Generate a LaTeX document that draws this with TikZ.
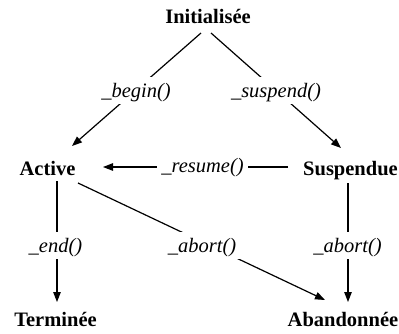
\documentclass[tikz,border=0pt]{standalone}
\usepackage{fontspec}
\setmainfont{Liberation Serif}
\usetikzlibrary{arrows.meta}
\begin{document}
\begin{tikzpicture}[x=1pt,y=-1pt,
  state/.style={font=\fontsize{20.5}{24}\selectfont\bfseries, inner sep=0pt, anchor=base},
  lbl/.style={font=\fontsize{20.5}{24}\selectfont\itshape, fill=white, anchor=base,
    inner xsep=4pt, inner ysep=2pt, text height=18pt, text depth=5pt},
  edge/.style={line width=1.2pt},
  arr/.style={edge, -{Triangle[length=10pt,width=7.5pt]}}]
\useasboundingbox (0,0) rectangle (399,333);
% states
\node[state] (ini) at (208,23) {Initialisée};
\node[state] (act) at (47.5,175) {Active};
\node[state] (sus) at (350.5,175) {Suspendue};
\node[state] (ter) at (55.5,326) {Terminée};
\node[state] (aba) at (343,326) {Abandonnée};
% transitions
\draw[arr] ([shift={(-7,10)}]ini.base) -- ([shift={(24.5,-29)}]act.base);
\draw[arr] ([shift={(3,10)}]ini.base) -- ([shift={(-9.5,-27)}]sus.base);
\draw[arr] ([shift={(-62.5,-8)}]sus.base) -- ([shift={(55.5,-8)}]act.base);
\draw[arr] ([shift={(9.5,6)}]act.base) -- ([shift={(1.5,-24)}]ter.base);
\draw[arr] ([shift={(30.5,8)}]act.base) -- ([shift={(-18,-26)}]aba.base);
\draw[arr] ([shift={(-2.5,8)}]sus.base) -- ([shift={(5,-24)}]aba.base);
% transition labels
\node[lbl] (lbegin) at (136,97) {\_begin()};
\node[lbl] (lsusp) at (276,97) {\_suspend()};
\node[lbl] (lres) at (202.5,172.5) {\_resume()};
\node[lbl] (lend) at (55.5,252) {\_end()};
\node[lbl] (labm) at (202,252) {\_abort()};
\node[lbl] (labr) at (347.5,252) {\_abort()};
\end{tikzpicture}
\end{document}
